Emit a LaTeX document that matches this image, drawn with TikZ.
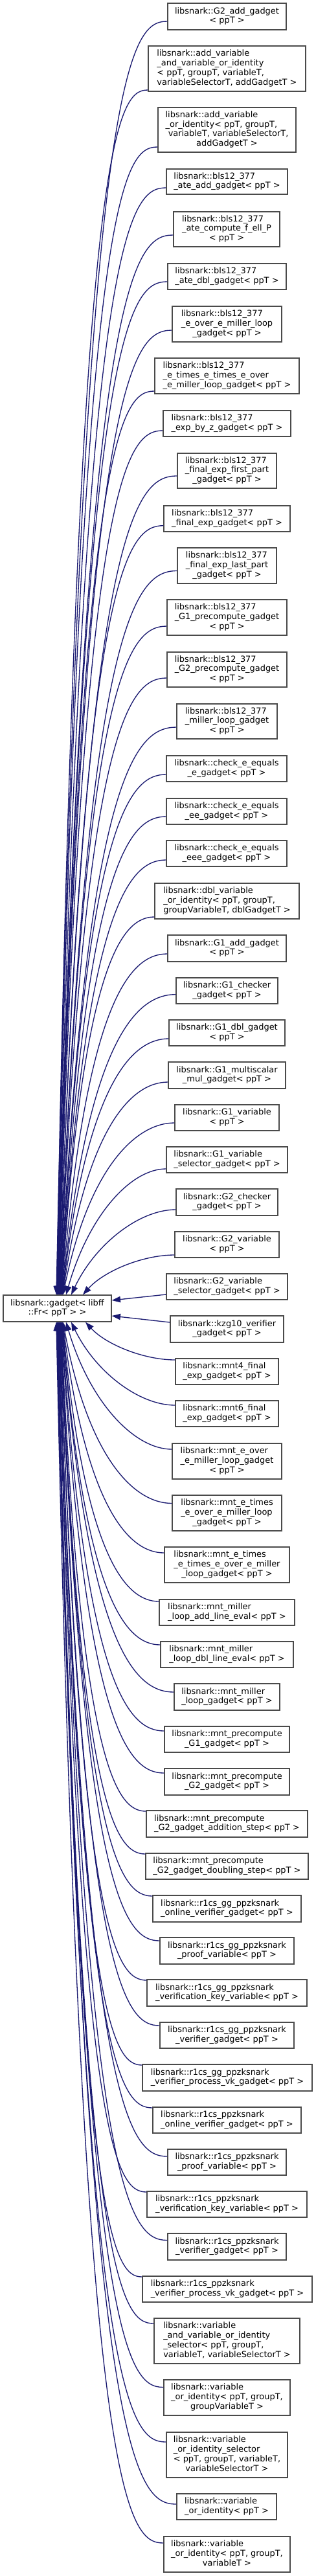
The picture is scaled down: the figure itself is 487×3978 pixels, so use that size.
\documentclass[tikz,border=0pt]{standalone}
\usepackage{fontspec}
\setmainfont{DejaVu Sans}
\usetikzlibrary{arrows.meta}
\definecolor{mblue}{HTML}{191970}
\definecolor{gcol}{HTML}{4A4A4A}
\newcommand\tb[1]{\begin{tabular}{@{}l@{}}#1\end{tabular}}
\newcommand\lc[1]{\multicolumn{1}{@{}c@{}}{#1}}
\tikzset{
  cbox/.style={draw=gcol, fill=white, line width=1pt, inner sep=0pt, anchor=center,
    font=\fontsize{9.7}{11.2}\selectfont},
  edge/.style={draw=mblue, line width=1pt, -{Triangle[length=10pt,width=7pt]}, mblue}
}
% name x1 y1 x2 y2 text
\newcommand\cls[6]{%
  \node[cbox, minimum width={(#4-#2)*0.75pt}, minimum height={(#5-#3)*0.75pt}] (#1) at ({(#2+#4)/2},{(#3+#5)/2}) {\tb{#6}};%
}
% name x1 y1 x2 y2 off xe text  (edge to top of base)
\newcommand\clsT[8]{%
  \cls{#1}{#2}{#3}{#4}{#5}{#8}%
  \pgfmathsetmacro\ya{(#3+#5)/2+#6}%
  \pgfmathsetmacro\W{#2-#7}%
  \pgfmathsetmacro\D{2000-\ya}%
  \pgfmathsetmacro\pax{#2-0.35*\W}%
  \pgfmathsetmacro\pbx{#7+0.23*\W}%
  \pgfmathsetmacro\pby{\ya+min(70,0.4*\D)}%
  \draw[edge] ([yshift={-(#6)*0.75pt}]#1.west) .. controls (\pax,\ya) and (\pbx,\pby) .. ([xshift={(#7-88.5)*0.75pt}]base.north);%
}
% edge to bottom of base
\newcommand\clsB[8]{%
  \cls{#1}{#2}{#3}{#4}{#5}{#8}%
  \pgfmathsetmacro\ya{(#3+#5)/2+#6}%
  \pgfmathsetmacro\W{#2-#7}%
  \pgfmathsetmacro\D{\ya-2041}%
  \pgfmathsetmacro\pax{#2-0.35*\W}%
  \pgfmathsetmacro\pbx{#7+0.23*\W}%
  \pgfmathsetmacro\pby{\ya-min(70,0.4*\D)}%
  \draw[edge] ([yshift={-(#6)*0.75pt}]#1.west) .. controls (\pax,\ya) and (\pbx,\pby) .. ([xshift={(#7-88.5)*0.75pt}]base.south);%
}
\begin{document}
\begin{tikzpicture}[x=0.75pt,y=-0.75pt]
\useasboundingbox (0,0) rectangle (487,3978);
\cls{base}{5}{2000}{172}{2041}{libsnark::gadget< libff\\ \lc{::Fr< ppT > >}}

\clsT{n1}{259}{5}{442}{46}{7.5}{87}{libsnark::G2\_add\_gadget\\ \lc{< ppT >}}
\clsT{n2}{229}{71}{472}{141}{33}{87.45}{libsnark::add\_variable\\ \_and\_variable\_or\_identity\\ < ppT, groupT, variableT,\\ \lc{variableSelectorT, addGadgetT >}}
\clsT{n3}{244}{166}{457}{235}{26.5}{87.9}{libsnark::add\_variable\\ \_or\_identity< ppT, groupT,\\ \ variableT, variableSelectorT,\\ \lc{addGadgetT >}}
\clsT{n4}{257}{261}{444}{300}{9.5}{88.35}{libsnark::bls12\_377\\ \lc{\_ate\_add\_gadget< ppT >}}
\clsT{n5}{268}{327}{432}{381}{9}{88.8}{libsnark::bls12\_377\\ \_ate\_compute\_f\_ell\_P\\ \lc{< ppT >}}
\clsT{n6}{259}{407}{442}{447}{8}{89.25}{libsnark::bls12\_377\\ \lc{\_ate\_dbl\_gadget< ppT >}}
\clsT{n7}{266}{473}{435}{528}{9.5}{89.7}{libsnark::bls12\_377\\ \_e\_over\_e\_miller\_loop\\ \lc{\_gadget< ppT >}}
\clsT{n8}{239}{553}{462}{608}{23.5}{90.15}{libsnark::bls12\_377\\ \_e\_times\_e\_times\_e\_over\\ \lc{\_e\_miller\_loop\_gadget< ppT >}}
\clsT{n9}{252}{634}{449}{674}{11}{90.6}{libsnark::bls12\_377\\ \lc{\_exp\_by\_z\_gadget< ppT >}}
\clsT{n10}{274}{700}{427}{754}{8}{91.05}{libsnark::bls12\_377\\ \_final\_exp\_first\_part\\ \lc{\_gadget< ppT >}}
\clsT{n11}{253}{781}{448}{821}{10.7}{91.5}{libsnark::bls12\_377\\ \lc{\_final\_exp\_gadget< ppT >}}
\clsT{n12}{274}{846}{427}{901}{8}{91.95}{libsnark::bls12\_377\\ \_final\_exp\_last\_part\\ \lc{\_gadget< ppT >}}
\clsT{n13}{258}{926}{443}{981}{13.5}{92.4}{libsnark::bls12\_377\\ \_G1\_precompute\_gadget\\ \lc{< ppT >}}
\clsT{n14}{258}{1007}{443}{1061}{13}{92.85}{libsnark::bls12\_377\\ \_G2\_precompute\_gadget\\ \lc{< ppT >}}
\clsT{n15}{273}{1087}{428}{1141}{9}{93.3}{libsnark::bls12\_377\\ \_miller\_loop\_gadget\\ \lc{< ppT >}}
\clsT{n16}{257}{1167}{443}{1207}{9}{93.75}{libsnark::check\_e\_equals\\ \lc{\_e\_gadget< ppT >}}
\clsT{n17}{257}{1233}{443}{1273}{8}{94.2}{libsnark::check\_e\_equals\\ \lc{\_ee\_gadget< ppT >}}
\clsT{n18}{257}{1298}{443}{1338}{10}{94.65}{libsnark::check\_e\_equals\\ \lc{\_eee\_gadget< ppT >}}
\clsT{n19}{239}{1364}{462}{1419}{24.5}{95.1}{libsnark::dbl\_variable\\ \_or\_identity< ppT, groupT,\\ \lc{groupVariableT, dblGadgetT >}}
\clsT{n20}{259}{1444}{442}{1485}{8.5}{95.55}{libsnark::G1\_add\_gadget\\ \lc{< ppT >}}
\clsT{n21}{272}{1510}{429}{1550}{5.7}{96}{libsnark::G1\_checker\\ \lc{\_gadget< ppT >}}
\clsT{n22}{261}{1575}{440}{1615}{9}{96.45}{libsnark::G1\_dbl\_gadget\\ \lc{< ppT >}}
\clsT{n23}{260}{1640}{441}{1681}{10.5}{96.9}{libsnark::G1\_multiscalar\\ \lc{\_mul\_gadget< ppT >}}
\clsT{n24}{270}{1706}{431}{1746}{8}{97.35}{libsnark::G1\_variable\\ \lc{< ppT >}}
\clsT{n25}{257}{1771}{444}{1811}{14}{102}{libsnark::G1\_variable\\ \lc{\_selector\_gadget< ppT >}}
\clsT{n26}{272}{1836}{429}{1877}{11.5}{110}{libsnark::G2\_checker\\ \lc{\_gadget< ppT >}}
\clsT{n27}{270}{1902}{431}{1942}{16}{128}{libsnark::G2\_variable\\ \lc{< ppT >}}

\cls{n28}{257}{1967}{444}{2007}{libsnark::G2\_variable\\ \lc{\_selector\_gadget< ppT >}}
\draw[edge] ([yshift=-9pt]n28.west) -- ([yshift=9.375pt]base.east);
\cls{n29}{263}{2032}{438}{2073}{libsnark::kzg10\_verifier\\ \lc{\_gadget< ppT >}}
\draw[edge] ([yshift=7.875pt]n29.west) -- ([yshift=-8.625pt]base.east);

\clsB{n30}{271}{2098}{430}{2138}{-18}{132}{libsnark::mnt4\_final\\ \lc{\_exp\_gadget< ppT >}}
\clsB{n31}{271}{2163}{430}{2203}{-13}{110}{libsnark::mnt6\_final\\ \lc{\_exp\_gadget< ppT >}}
\clsB{n32}{266}{2229}{435}{2284}{-18.5}{102}{libsnark::mnt\_e\_over\\ \_e\_miller\_loop\_gadget\\ \lc{< ppT >}}
\clsB{n33}{266}{2309}{435}{2364}{-15}{97.35}{libsnark::mnt\_e\_times\\ \_e\_over\_e\_miller\_loop\\ \lc{\_gadget< ppT >}}
\clsB{n34}{254}{2389}{447}{2444}{-18.5}{96.9}{libsnark::mnt\_e\_times\\ \_e\_times\_e\_over\_e\_miller\\ \lc{\_loop\_gadget< ppT >}}
\clsB{n35}{246}{2470}{455}{2510}{-17}{96.45}{libsnark::mnt\_miller\\ \lc{\_loop\_add\_line\_eval< ppT >}}
\clsB{n36}{248}{2535}{453}{2575}{-15}{96}{libsnark::mnt\_miller\\ \lc{\_loop\_dbl\_line\_eval< ppT >}}
\clsB{n37}{269}{2600}{432}{2641}{-7.5}{95.55}{libsnark::mnt\_miller\\ \lc{\_loop\_gadget< ppT >}}
\clsB{n38}{254}{2666}{447}{2706}{-13}{95.1}{libsnark::mnt\_precompute\\ \lc{\_G1\_gadget< ppT >}}
\clsB{n39}{254}{2731}{447}{2772}{-13.5}{94.65}{libsnark::mnt\_precompute\\ \lc{\_G2\_gadget< ppT >}}
\clsB{n40}{226}{2796}{475}{2837}{-19.5}{94.2}{libsnark::mnt\_precompute\\ \lc{\_G2\_gadget\_addition\_step< ppT >}}
\clsB{n41}{225}{2862}{476}{2902}{-19}{93.75}{libsnark::mnt\_precompute\\ \lc{\_G2\_gadget\_doubling\_step< ppT >}}
\clsB{n42}{236}{2927}{465}{2968}{-19.5}{93.3}{libsnark::r1cs\_gg\_ppzksnark\\ \lc{\_online\_verifier\_gadget< ppT >}}
\clsB{n43}{247}{2992}{454}{3033}{-15.5}{92.85}{libsnark::r1cs\_gg\_ppzksnark\\ \lc{\_proof\_variable< ppT >}}
\clsB{n44}{227}{3057}{474}{3098}{-19.5}{92.4}{libsnark::r1cs\_gg\_ppzksnark\\ \lc{\_verification\_key\_variable< ppT >}}
\clsB{n45}{247}{3123}{454}{3163}{-15}{91.95}{libsnark::r1cs\_gg\_ppzksnark\\ \lc{\_verifier\_gadget< ppT >}}
\clsB{n46}{220}{3188}{482}{3229}{-19.5}{91.5}{libsnark::r1cs\_gg\_ppzksnark\\ \lc{\_verifier\_process\_vk\_gadget< ppT >}}
\clsB{n47}{236}{3254}{465}{3294}{-19}{91.05}{libsnark::r1cs\_ppzksnark\\ \lc{\_online\_verifier\_gadget< ppT >}}
\clsB{n48}{259}{3319}{442}{3359}{-9}{90.6}{libsnark::r1cs\_ppzksnark\\ \lc{\_proof\_variable< ppT >}}
\clsB{n49}{227}{3384}{474}{3424}{-19}{90.15}{libsnark::r1cs\_ppzksnark\\ \lc{\_verification\_key\_variable< ppT >}}
\clsB{n50}{259}{3449}{442}{3490}{-10}{89.7}{libsnark::r1cs\_ppzksnark\\ \lc{\_verifier\_gadget< ppT >}}
\clsB{n51}{220}{3515}{482}{3555}{-19}{89.25}{libsnark::r1cs\_ppzksnark\\ \lc{\_verifier\_process\_vk\_gadget< ppT >}}
\clsB{n52}{238}{3580}{463}{3650}{-27}{88.8}{libsnark::variable\\ \_and\_variable\_or\_identity\\ \_selector< ppT, groupT,\\ \lc{variableT, variableSelectorT >}}
\clsB{n53}{253}{3675}{448}{3730}{-16}{88.35}{libsnark::variable\\ \_or\_identity< ppT, groupT,\\ \lc{groupVariableT >}}
\clsB{n54}{257}{3756}{444}{3826}{-20}{87.9}{libsnark::variable\\ \_or\_identity\_selector\\ < ppT, groupT, variableT,\\ \lc{variableSelectorT >}}
\clsB{n55}{273}{3851}{427}{3891}{-4}{87.45}{libsnark::variable\\ \lc{\_or\_identity< ppT >}}
\clsB{n56}{253}{3917}{448}{3972}{-17.5}{87}{libsnark::variable\\ \_or\_identity< ppT, groupT,\\ \lc{variableT >}}
\end{tikzpicture}
\end{document}
